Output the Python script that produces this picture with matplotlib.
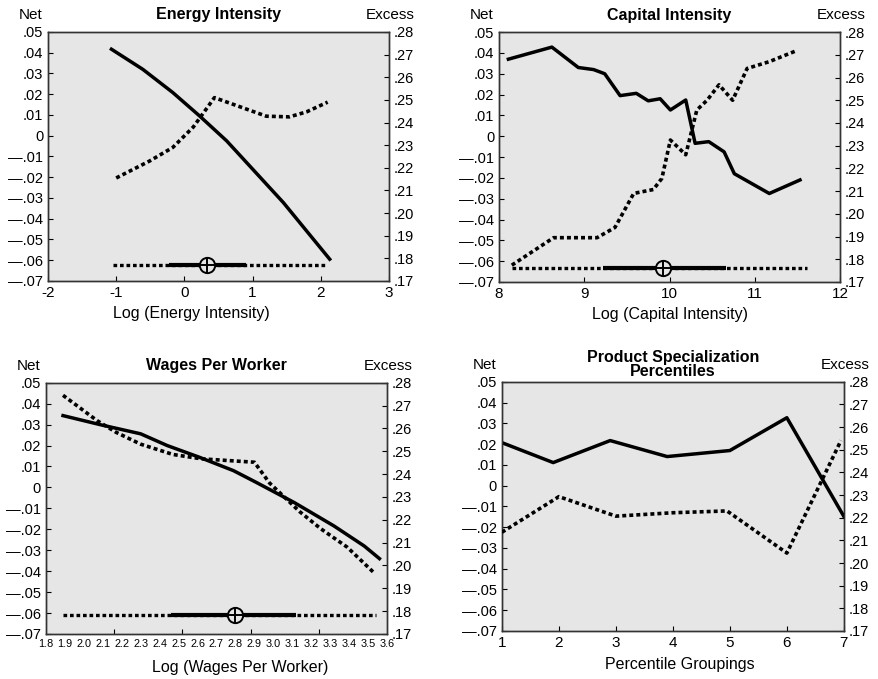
import matplotlib
matplotlib.use('Agg')
import matplotlib.pyplot as plt
import numpy as np

plt.rcParams['font.family'] = ['Liberation Sans', 'DejaVu Sans']

# net scale (left) and excess scale (right)
net_ticks = [0.05, 0.04, 0.03, 0.02, 0.01, 0, -0.01, -0.02, -0.03, -0.04, -0.05, -0.06, -0.07]
net_labels = ['.05', '.04', '.03', '.02', '.01', '0', '—.01', '—.02', '—.03', '—.04', '—.05', '—.06', '—.07']
exc_ticks = [0.28, 0.27, 0.26, 0.25, 0.24, 0.23, 0.22, 0.21, 0.20, 0.19, 0.18, 0.17]
exc_labels = ['.28', '.27', '.26', '.25', '.24', '.23', '.22', '.21', '.20', '.19', '.18', '.17']

# Energy intensity
energy_x_net = [-1.07, -0.61, -0.17, 0.22, 0.62, 1.0, 1.45, 2.13]
energy_net = [0.0417, 0.032, 0.0208, 0.0096, -0.0025, -0.0161, -0.0322, -0.0595]
energy_x_exc = [-1.0, -0.51, -0.17, 0.13, 0.44, 0.81, 1.2, 1.54, 1.79, 2.1]
energy_exc = [0.2155, 0.223, 0.229, 0.238, 0.251, 0.247, 0.2428, 0.2425, 0.2447, 0.249]
energy_box = [-1.05, -0.23, 0.33, 0.9, 2.06]  # low, q1, median, q3, high
energy_xticks = [-2, -1, 0, 1, 2, 3]
energy_xlabels = ['-2', '-1', '0', '1', '2', '3']

# Capital intensity
cap_x_net = [8.11, 8.62, 8.93, 9.11, 9.24, 9.42, 9.61, 9.75, 9.89, 10.01, 10.19,
             10.3, 10.46, 10.64, 10.76, 11.17, 11.53]
cap_net = [0.037, 0.0428, 0.033, 0.032, 0.030, 0.0195, 0.0206, 0.017, 0.018, 0.0126,
           0.0174, -0.0034, -0.0026, -0.0075, -0.018, -0.0275, -0.021]
cap_x_exc = [8.15, 8.64, 9.15, 9.36, 9.58, 9.81, 9.91, 10.01, 10.19, 10.32, 10.44,
             10.58, 10.74, 10.91, 11.17, 11.5]
cap_exc = [0.1774, 0.1895, 0.1895, 0.194, 0.209, 0.2107, 0.2156, 0.2325, 0.226,
           0.2457, 0.25, 0.2568, 0.25, 0.264, 0.267, 0.272]
cap_box = [8.15, 9.22, 9.92, 10.66, 11.61]
cap_xticks = [8, 9, 10, 11, 12]

# Wages per worker
wage_x_net = [1.89, 2.09, 2.30, 2.44, 2.61, 2.79, 2.91, 3.11, 3.32, 3.48, 3.56]
wage_net = [0.0343, 0.0299, 0.0256, 0.020, 0.0144, 0.008, 0.0024, -0.0072, -0.0184, -0.028, -0.034]
wage_x_exc = [1.89, 2.07, 2.17, 2.30, 2.47, 2.62, 2.90, 2.98, 3.14, 3.25, 3.39, 3.53]
wage_exc = [0.2745, 0.2634, 0.2583, 0.2531, 0.2486, 0.2467, 0.2452, 0.2361, 0.2235,
            0.2161, 0.208, 0.1969]
wage_box = [1.89, 2.46, 2.80, 3.12, 3.54]
wage_xlabels = ['1.8', '1.9', '2.0', '2.1', '2.2', '2.3', '2.4', '2.5', '2.6', '2.7',
                '2.8', '2.9', '3.0', '3.1', '3.2', '3.3', '3.4', '3.5', '3.6']

# Product specialization percentiles
prod_x_net = [1, 1.9, 2.9, 3.9, 5.0, 6.0, 7.0]
prod_net = [0.0207, 0.0111, 0.0217, 0.014, 0.0169, 0.0327, -0.0148]
prod_x_exc = [1, 2, 3, 4, 4.95, 6, 6.95]
prod_exc = [0.2136, 0.2293, 0.2207, 0.2222, 0.2230, 0.2044, 0.2541]
prod_xticks = [1, 2, 3, 4, 5, 6, 7]

BG = '#e6e6e6'
DOT = (0, (1.1, 0.85))

fig = plt.figure(figsize=(8.79, 6.79), dpi=100)


def panel(rect, title, xlabel, xlim, x_net, net, x_exc, exc, box=None, box_y=-0.0625,
          label_x=0.5, title_pad=9):
    ax = fig.add_axes(rect)
    ax.set_facecolor(BG)
    ax.set_xlim(*xlim)
    ax.set_ylim(-0.07, 0.05)
    ax.set_yticks(net_ticks)
    ax.set_yticklabels(net_labels)
    ax.tick_params(direction='in', length=3.5, width=0.8, labelsize=10.5, top=False)
    ax.tick_params(axis='x', labelsize=11)
    for s in ax.spines.values():
        s.set_linewidth(1.0)
        s.set_color('#333333')
    ax.plot(x_net, net, color='black', lw=2.5, solid_joinstyle='round', zorder=3)
    if box is not None:
        ax.plot([box[0], box[4]], [box_y, box_y], color='black', lw=2.4,
                linestyle=DOT, dash_capstyle='butt', zorder=3)
        ax.plot([box[1], box[3]], [box_y, box_y], color='black', lw=3.0,
                solid_capstyle='butt', zorder=4)
        ax.plot([box[2]], [box_y], marker='o', ms=11, mfc=BG, mec='black', mew=1.4, zorder=5)
        ax.plot([box[2]], [box_y], marker='+', ms=11, mec='black', mew=1.4, zorder=6)

    ax2 = ax.twinx()
    ax2.set_ylim(0.17, 0.28)
    ax2.set_yticks(exc_ticks)
    ax2.set_yticklabels(exc_labels)
    ax2.tick_params(direction='in', length=3.5, width=0.8, labelsize=10.5)
    for s in ax2.spines.values():
        s.set_linewidth(1.0)
        s.set_color('#333333')
    ax2.plot(x_exc, exc, color='black', lw=2.6, linestyle=DOT, dash_capstyle='butt', zorder=3)

    ax.set_title(title, fontsize=11.5, fontweight='bold', pad=title_pad, linespacing=0.95)
    ax.annotate('Net', xy=(0, 1), xycoords='axes fraction', xytext=(-17, 17),
                textcoords='offset pixels', ha='center', va='center', fontsize=11)
    ax.annotate('Excess', xy=(1, 1), xycoords='axes fraction', xytext=(1, 17),
                textcoords='offset pixels', ha='center', va='center', fontsize=11)
    ax.set_xlabel(xlabel, fontsize=11.5)
    ax.xaxis.set_label_coords(label_x, -0.13)
    ax.xaxis.label.set_va('center')
    return ax, ax2


ax, _ = panel([0.0546, 0.5862, 0.388, 0.3667], 'Energy Intensity', 'Log (Energy Intensity)',
              (-2, 3), energy_x_net, energy_net, energy_x_exc, energy_exc, energy_box,
              box_y=-0.0625, label_x=0.42)
ax.set_xticks(energy_xticks)
ax.set_xticklabels(energy_xlabels)

ax, _ = panel([0.5677, 0.5847, 0.388, 0.368], 'Capital Intensity', 'Log (Capital Intensity)',
              (8, 12), cap_x_net, cap_net, cap_x_exc, cap_exc, cap_box, box_y=-0.0633)
ax.set_xticks(cap_xticks)

ax, _ = panel([0.0523, 0.0663, 0.388, 0.37], 'Wages Per Worker', 'Log (Wages Per Worker)',
              (1.8, 3.6), wage_x_net, wage_net, wage_x_exc, wage_exc, wage_box,
              box_y=-0.061, label_x=0.57)
ax.set_xticks(np.linspace(1.8, 3.6, len(wage_xlabels)))
ax.set_xticklabels(wage_xlabels)
ax.tick_params(axis='x', length=0, labelsize=7.8)
ax.set_xticks(np.linspace(1.8, 3.6, 6)[1:-1], minor=True)
ax.tick_params(axis='x', which='minor', direction='in', length=3.5, width=0.8)
ax.xaxis.set_label_coords(0.57, -0.135)

ax, _ = panel([0.571, 0.0707, 0.389, 0.367], 'Product Specialization\nPercentiles',
              'Percentile Groupings', (1, 7), prod_x_net, prod_net, prod_x_exc, prod_exc,
              label_x=0.52, title_pad=4)
ax.set_xticks(prod_xticks)
ax.xaxis.set_label_coords(0.52, -0.135)

fig.savefig('out.png', dpi=100)
